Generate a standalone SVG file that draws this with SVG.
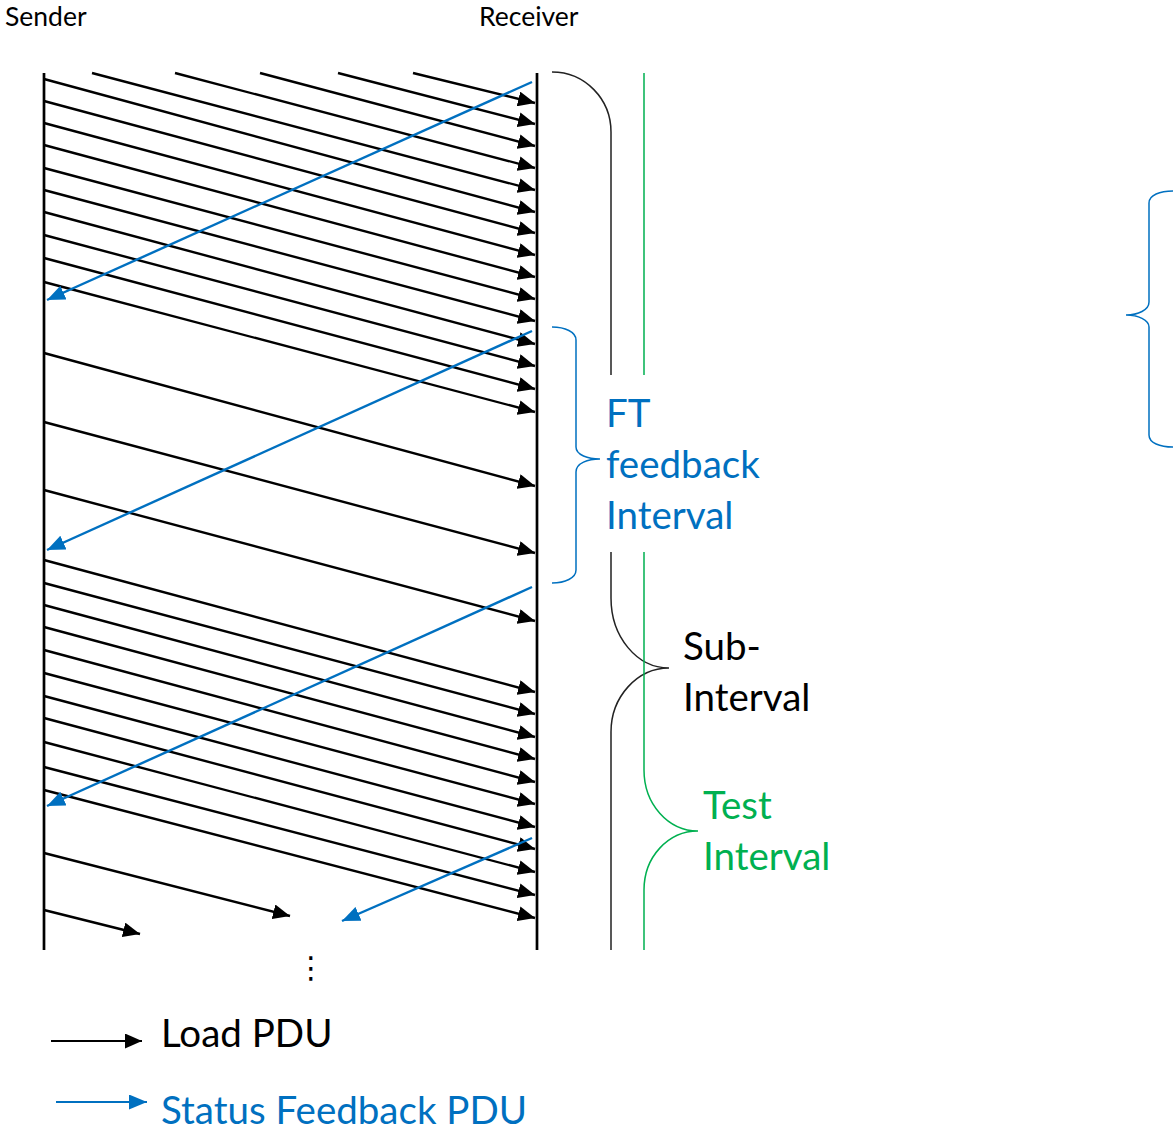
<svg xmlns="http://www.w3.org/2000/svg" width="1175" height="1131" viewBox="0 0 1175 1131">
  <defs>
    <marker id="headLoad" markerUnits="userSpaceOnUse" markerWidth="17" markerHeight="15" refX="17" refY="7.5" orient="auto">
      <path d="M0,0 L17,7.5 L0,15 Z" fill="#000"/>
    </marker>
    <marker id="headStatus" markerUnits="userSpaceOnUse" markerWidth="18" markerHeight="15" refX="18" refY="7.5" orient="auto">
      <path d="M0,0 L18,7.5 L0,15 Z" fill="#0070C0"/>
    </marker>
  </defs>
  <style>
    text { font-family: Lato, "Open Sans", "Liberation Sans", sans-serif; }
    .lifeline { stroke: #000; stroke-width: 2.7; fill: none; }
    .load { stroke: #000; stroke-width: 2.4; fill: none; marker-end: url(#headLoad); }
    .status { stroke: #0070C0; stroke-width: 2.4; fill: none; marker-end: url(#headStatus); }
    .brace-black { stroke: #222; stroke-width: 1.5; fill: none; }
    .brace-green { stroke: #00B050; stroke-width: 1.5; fill: none; }
    .brace-blue { stroke: #0070C0; stroke-width: 1.5; fill: none; }
    .small { font-size: 26.5px; fill: #000; }
    .big { font-size: 38.5px; }
    .blue { fill: #0070C0; }
    .green { fill: #00B050; }
    .black { fill: #000; }
  </style>

  <!-- lifelines -->
  <g id="sender">
    <text class="small" x="5" y="26">Sender</text>
    <line class="lifeline" x1="44" y1="73" x2="44" y2="950"/>
  </g>
  <g id="receiver">
    <text class="small" x="479" y="26">Receiver</text>
    <line class="lifeline" x1="537" y1="73" x2="537" y2="950"/>
  </g>

  <!-- PDU arrows between sender and receiver -->
  <g id="connectors">
    <g id="load-pdus">
      <line class="load" x1="413" y1="73" x2="535" y2="103"/>
      <line class="load" x1="338" y1="73" x2="535" y2="124"/>
      <line class="load" x1="260" y1="73" x2="535" y2="146"/>
      <line class="load" x1="175" y1="73" x2="535" y2="168"/>
      <line class="load" x1="92" y1="73" x2="535" y2="190"/>
      <line class="load" x1="44" y1="79" x2="535" y2="212"/>
      <line class="load" x1="44" y1="101" x2="535" y2="233"/>
      <line class="load" x1="44" y1="123" x2="535" y2="255"/>
      <line class="load" x1="44" y1="145" x2="535" y2="277"/>
      <line class="load" x1="44" y1="168" x2="535" y2="299"/>
      <line class="load" x1="44" y1="190" x2="535" y2="321"/>
      <line class="load" x1="44" y1="212" x2="535" y2="344"/>
      <line class="load" x1="44" y1="235" x2="535" y2="366"/>
      <line class="load" x1="44" y1="258" x2="535" y2="389"/>
      <line class="load" x1="44" y1="282" x2="535" y2="412"/>
      <line class="load" x1="44" y1="353" x2="535" y2="486"/>
      <line class="load" x1="44" y1="422" x2="535" y2="553"/>
      <line class="load" x1="44" y1="490" x2="535" y2="621"/>
      <line class="load" x1="44" y1="560" x2="535" y2="692"/>
      <line class="load" x1="44" y1="583" x2="535" y2="714"/>
      <line class="load" x1="44" y1="605" x2="535" y2="737"/>
      <line class="load" x1="44" y1="627" x2="535" y2="759"/>
      <line class="load" x1="44" y1="650" x2="535" y2="782"/>
      <line class="load" x1="44" y1="673" x2="535" y2="804"/>
      <line class="load" x1="44" y1="696" x2="535" y2="827"/>
      <line class="load" x1="44" y1="718" x2="535" y2="849"/>
      <line class="load" x1="44" y1="742" x2="535" y2="872"/>
      <line class="load" x1="44" y1="767" x2="535" y2="895"/>
      <line class="load" x1="44" y1="790" x2="535" y2="918"/>
      <line class="load" x1="44" y1="853" x2="290" y2="916"/>
      <line class="load" x1="44" y1="910" x2="140" y2="934"/>
    </g>
    <g id="status-pdus">
      <line class="status" x1="532" y1="82" x2="47" y2="300"/>
      <line class="status" x1="532" y1="331" x2="47" y2="550"/>
      <line class="status" x1="532" y1="587" x2="47" y2="806"/>
      <line class="status" x1="532" y1="838" x2="342" y2="921"/>
    </g>
  </g>

  <text id="continuation" x="311" y="978" text-anchor="middle" font-size="30" style="font-family: 'DejaVu Sans', sans-serif;" fill="#000">⋮</text>

  <!-- interval braces -->
  <g id="sub-interval">
    <path class="brace-black" d="M552,72 C585,72 611,99 611,132 L611,375 M611,552 L611,598 C611,637 637,668 669,668 C637,668 611,697 611,732 L611,950"/>
    <text class="big black" x="683" y="660">Sub-</text>
    <text class="big black" x="683" y="711">Interval</text>
  </g>
  <g id="test-interval">
    <path class="brace-green" d="M644,73 L644,375 M644,552 L644,770 C644,804 668,831 698,831 C668,831 644,857 644,890 L644,950"/>
    <text class="big green" x="703" y="819">Test</text>
    <text class="big green" x="703" y="870">Interval</text>
  </g>
  <g id="ft-feedback-interval">
    <path class="brace-blue" d="M552,327 C565,327 576,332 576,340 L576,447 C576,455 588,459 600,459 C588,459 576,463 576,472 L576,570 C576,578 565,583 552,583"/>
    <text class="big blue" x="606" y="427">FT</text>
    <text class="big blue" x="606" y="478">feedback</text>
    <text class="big blue" x="606" y="529">Interval</text>
  </g>
  <g id="right-brace">
    <path class="brace-blue" d="M1173,191 C1160,191 1149,195 1149,203 L1149,302 C1149,310 1138,315 1126,315 C1138,315 1149,320 1149,327 L1149,435 C1149,443 1160,447 1173,447"/>
  </g>

  <!-- legend -->
  <g id="legend-load">
    <line x1="51" y1="1041" x2="142" y2="1041" stroke="#000" stroke-width="2" marker-end="url(#headLoad)"/>
    <text class="big black" x="161" y="1047">Load PDU</text>
  </g>
  <g id="legend-status">
    <line x1="56" y1="1102" x2="147" y2="1102" stroke="#0070C0" stroke-width="2" marker-end="url(#headStatus)"/>
    <text class="big blue" x="161" y="1124">Status Feedback PDU</text>
  </g>
</svg>
